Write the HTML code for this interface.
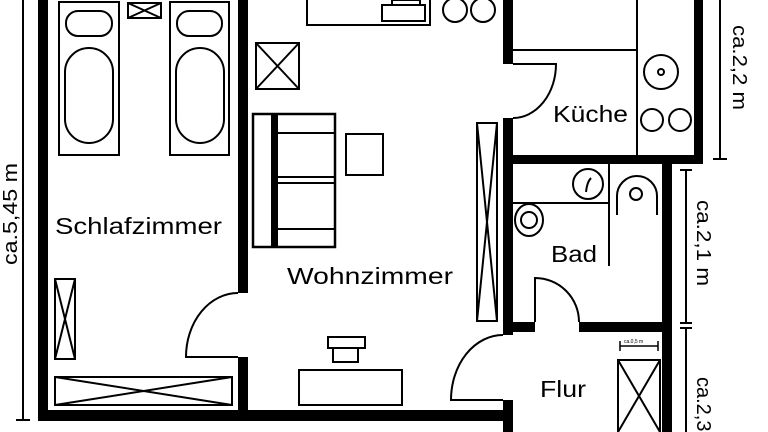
<!DOCTYPE html>
<html><head><meta charset="utf-8"><style>html,body{margin:0;padding:0;background:#fff;overflow:hidden;width:768px;height:432px}svg{display:block;overflow:hidden}text{font-family:"Liberation Sans",sans-serif;fill:#000}</style></head><body>
<svg width="768" height="432" viewBox="0 0 768 432" xmlns="http://www.w3.org/2000/svg">
<g fill="#000">
<rect x="38" y="0" width="10" height="421"/>
<rect x="38" y="410" width="475" height="11"/>
<rect x="238" y="0" width="10" height="293"/>
<rect x="238" y="357" width="10" height="60"/>
<rect x="503" y="0" width="10" height="64"/>
<rect x="503" y="118" width="10" height="217"/>
<rect x="503" y="400" width="10" height="32"/>
<rect x="694" y="0" width="9" height="164"/>
<rect x="503" y="155" width="200" height="9"/>
<rect x="662" y="155" width="10" height="277"/>
<rect x="503" y="322" width="32" height="10"/>
<rect x="579" y="322" width="93" height="10"/>
<rect x="271" y="114" width="7" height="133"/>
</g>
<g fill="none" stroke="#000" stroke-width="2">
<line x1="23" y1="0" x2="23" y2="420"/><line x1="16" y1="420" x2="30" y2="420"/>
<rect x="59" y="2" width="60" height="153"/><rect x="66" y="11" width="46" height="25" rx="12"/><rect x="65" y="48" width="48" height="95" rx="24"/>
<rect x="170" y="2" width="59" height="153"/><rect x="177" y="11" width="45" height="25" rx="12"/><rect x="176" y="48" width="48" height="95" rx="24"/>
<rect x="128" y="3" width="33" height="15"/><path d="M128 3L161 18M161 3L128 18"/>
<rect x="55" y="279" width="20" height="80"/><path d="M55 279L75 359M75 279L55 359"/>
<rect x="55" y="377" width="177" height="28"/><path d="M55 377L232 405M232 377L55 405"/>
<path d="M238 293 A52 64 0 0 0 186 357 L238 357"/>
<rect x="256" y="43" width="43" height="46"/><path d="M256 43L299 89M299 43L256 89"/>
<rect x="253" y="114" width="82" height="133" stroke-width="2.5"/><path d="M278 133H335M278 177H335M278 183H335M278 229H335"/>
<rect x="346" y="134" width="37" height="41"/>
<rect x="307" y="-2" width="123" height="27"/><rect x="382" y="5" width="43" height="16"/><rect x="392" y="0" width="28" height="5"/>
<circle cx="455" cy="10" r="12"/><circle cx="483" cy="10" r="12"/>
<rect x="477" y="123" width="20" height="198"/><path d="M477 123L497 321M497 123L477 321"/>
<rect x="299" y="370" width="103" height="35"/><rect x="328" y="337" width="37" height="11"/><rect x="333" y="348" width="25" height="14"/>
<path d="M513 64H556 A43 54 0 0 1 513 118"/>
<path d="M513 50H637M637 0V155"/>
<circle cx="661" cy="72" r="17"/><circle cx="661" cy="72" r="3"/>
<circle cx="652" cy="120" r="11"/><circle cx="680" cy="120" r="11"/>
<line x1="720" y1="0" x2="720" y2="159"/><line x1="713" y1="159" x2="727" y2="159"/>
<path d="M513 203H609M609 164V266"/>
<circle cx="588" cy="184" r="15"/><path d="M586 192 Q587 182 591 178"/>
<path d="M617 215 V196 A20 20 0 0 1 657 196 V215"/><circle cx="636" cy="194" r="6"/>
<ellipse cx="529" cy="220" rx="14" ry="16"/><circle cx="529" cy="220" r="8"/>
<path d="M535 322V278 A44 44 0 0 1 579 322"/>
<path d="M503 335 A52 65 0 0 0 451 400 H503"/>
<path d="M618 432V360H660V432M618 360L660 432M660 360L618 432"/>
<path d="M620 346H658M620 341V351M658 341V351" stroke-width="1.5"/>
<line x1="686" y1="170" x2="686" y2="323"/><line x1="680" y1="170" x2="692" y2="170"/>
<line x1="680" y1="323" x2="692" y2="323"/><line x1="680" y1="328" x2="692" y2="328"/>
<line x1="686" y1="328" x2="686" y2="432"/>
</g>
<text x="55" y="234" font-size="23" textLength="167" lengthAdjust="spacingAndGlyphs">Schlafzimmer</text>
<text x="287" y="284" font-size="23" textLength="166" lengthAdjust="spacingAndGlyphs">Wohnzimmer</text>
<text x="553" y="122" font-size="23" textLength="75" lengthAdjust="spacingAndGlyphs">Küche</text>
<text x="551" y="262" font-size="23" textLength="46" lengthAdjust="spacingAndGlyphs">Bad</text>
<text x="540" y="397" font-size="23" textLength="46" lengthAdjust="spacingAndGlyphs">Flur</text>
<text font-size="5" x="624" y="343">ca.0,5 m</text>
<text font-size="20" transform="translate(17,265) rotate(-90)" textLength="102" lengthAdjust="spacingAndGlyphs">ca.5,45 m</text>
<text font-size="20" transform="translate(733,25) rotate(90)" textLength="85" lengthAdjust="spacingAndGlyphs">ca.2,2 m</text>
<text font-size="20" transform="translate(697,200) rotate(90)" textLength="86" lengthAdjust="spacingAndGlyphs">ca.2,1 m</text>
<text font-size="20" transform="translate(697,377) rotate(90)">ca.2,3</text>
</svg>
</body></html>
